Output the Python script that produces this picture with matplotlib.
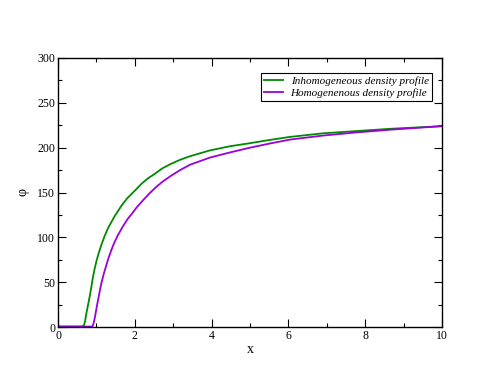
import matplotlib
matplotlib.use("Agg")
import matplotlib.pyplot as plt
from matplotlib.ticker import MultipleLocator

plt.rcParams['font.family'] = ['Liberation Serif', 'DejaVu Serif']

# inhomogeneous profile (green)
x_inh = [0, 0.62, 0.65, 0.677, 0.705, 0.738, 0.78, 0.825, 0.87, 0.911, 0.955,
         0.998, 1.06, 1.128, 1.21, 1.30, 1.39, 1.476, 1.565, 1.649, 1.8,
         2.0, 2.18, 2.35, 2.526, 2.72, 2.92, 3.18, 3.44, 3.96, 4.48, 5.0,
         5.5, 6.04, 6.9, 7.77, 8.64, 10]
y_inh = [0.5, 0.5, 1.0, 2.2, 6.5, 15, 24, 34, 45, 56, 65,
         73, 82.5, 91.4, 101, 110, 117, 123.7, 129.5, 135, 143.5,
         152, 160, 166, 171, 177, 181.5, 186.5, 190.5, 197, 201.6, 205,
         208.5, 212, 216, 218.5, 221, 224]

# homogeneous profile (purple)
x_hom = [0, 0.88, 0.90, 0.911, 0.94, 0.972, 1.005, 1.042, 1.085, 1.128, 1.19,
         1.259, 1.32, 1.389, 1.47, 1.562, 1.68, 1.806, 1.918, 2.06, 2.22,
         2.37, 2.526, 2.72, 2.92, 3.18, 3.44, 3.96, 4.48, 5.0, 5.5, 6.04,
         6.9, 7.77, 8.64, 10]
y_hom = [0.5, 0.5, 1.0, 2.0, 6.5, 13.4, 21.5, 30, 39.5, 48.6, 59,
         69, 77.5, 85.8, 94.5, 102.5, 111.5, 120, 126, 134, 141.6,
         148.5, 155, 162, 168, 175, 181, 189, 194.7, 200, 204.5, 209,
         213.5, 217, 220, 224]

labels = ["Inhomogeneous density profile", "Homogenenous density profile"]

fig = plt.figure(figsize=(4.98, 3.85), dpi=100)
ax = fig.add_axes([58 / 498, 58 / 385, 384 / 498, 269 / 385])

ax.plot(x_inh, y_inh, color='#008a00', lw=1.3, label=labels[0])
ax.plot(x_hom, y_hom, color='#9a00d8', lw=1.3, label=labels[1])

ax.set_xlim(0, 10)
ax.set_ylim(0, 300)
ax.xaxis.set_major_locator(MultipleLocator(2))
ax.xaxis.set_minor_locator(MultipleLocator(1))
ax.yaxis.set_major_locator(MultipleLocator(50))
ax.yaxis.set_minor_locator(MultipleLocator(25))
ax.tick_params(which='both', direction='in', top=True, right=True,
               labelsize=8.5, width=0.8, pad=2)
ax.tick_params(which='major', length=6)
ax.tick_params(which='minor', length=3)
for s in ax.spines.values():
    s.set_linewidth(1.0)

ax.set_xlabel("x", fontsize=10, labelpad=1)
ax.set_ylabel("φ", fontsize=10, labelpad=6)

leg = ax.legend(loc='upper right', bbox_to_anchor=(0.974, 0.944),
                borderaxespad=0, prop={'style': 'italic', 'size': 8},
                fancybox=False, edgecolor='black', framealpha=1,
                handlelength=1.7, handletextpad=0.7,
                borderpad=0.3, labelspacing=0.15)
leg.get_frame().set_linewidth(0.8)

fig.savefig("out.png", dpi=100)
